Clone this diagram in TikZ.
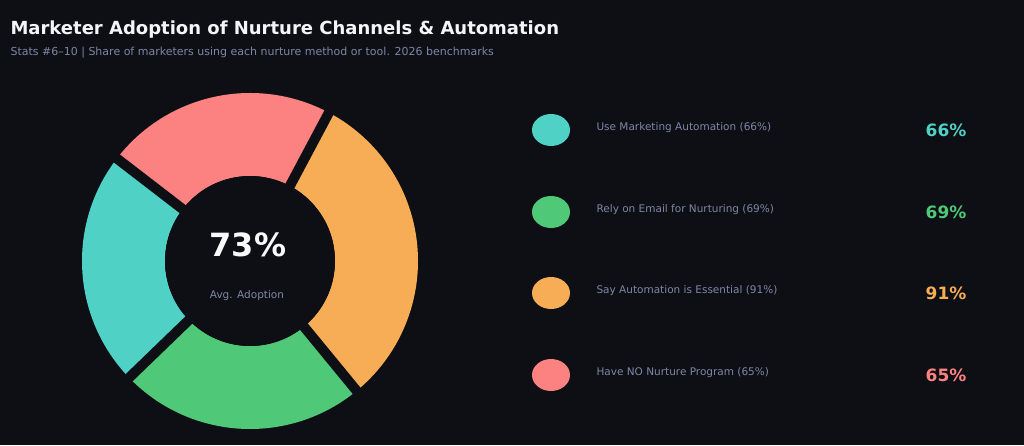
\documentclass[tikz,border=0pt]{standalone}
\usepackage{fontspec}
\setmainfont{DejaVu Sans}
\usetikzlibrary{calc,shapes.geometric}
\definecolor{bg}{HTML}{0E0F14}
\definecolor{cteal}{HTML}{4FD1C5}
\definecolor{cgreen}{HTML}{4FC978}
\definecolor{corange}{HTML}{F6AD55}
\definecolor{cred}{HTML}{FC8181}
\definecolor{sub}{HTML}{7D86A6}
\begin{document}
\begin{tikzpicture}[x=1pt,y=1pt,
  seg/.style={fill=#1,draw=none},
  gap/.style={draw=bg,line width=10pt},
  lab/.style={anchor=west,text=sub,font=\fontsize{10.5}{12}\selectfont},
  pct/.style={text=#1,font=\bfseries\fontsize{17}{20}\selectfont},
  dot/.style={fill=#1,draw=none,ellipse,minimum width=38pt,minimum height=32pt,inner sep=0pt}]
\useasboundingbox[fill=bg] (0,0) rectangle (1024,445);
\node[anchor=west,text=white!92!sub,font=\bfseries\fontsize{18}{22}\selectfont] (title) at (7,415) {Marketer Adoption of Nurture Channels \& Automation};
\node[anchor=west,text=sub,font=\fontsize{11}{13}\selectfont] (subtitle) at (7,392) {Stats \#6–10 | Share of marketers using each nurture method or tool. 2026 benchmarks};
\coordinate (c) at (250,184);
\def\R{168}\def\r{85}
\fill[cred] ($(c)+(142.4:\R)$) arc (142.4:62:\R) -- ($(c)+(62:\r)$) arc (62:142.4:\r) -- cycle;
\fill[corange] ($(c)+(62:\R)$) arc (62:-50.6:\R) -- ($(c)+(-50.6:\r)$) arc (-50.6:62:\r) -- cycle;
\fill[cgreen] ($(c)+(-50.6:\R)$) arc (-50.6:-136:\R) -- ($(c)+(-136:\r)$) arc (-136:-50.6:\r) -- cycle;
\fill[cteal] ($(c)+(-136:\R)$) arc (-136:-217.6:\R) -- ($(c)+(-217.6:\r)$) arc (-217.6:-136:\r) -- cycle;
\foreach \a in {62,-50.6,-136,142.4} \draw[gap] (c) -- ($(c)+(\a:\R+5)$);
\fill[bg] (c) circle (\r);
\node[text=white!95!sub,font=\bfseries\fontsize{32}{36}\selectfont] (avg) at (248,200) {73\%};
\node[text=sub,font=\fontsize{10.5}{12}\selectfont] (avglab) at (247,149) {Avg. Adoption};
\foreach \y/\col/\t/\p [count=\i] in {315/cteal/Use Marketing Automation (66\%)/66\%,
  233/cgreen/Rely on Email for Nurturing (69\%)/69\%,
  152/corange/Say Automation is Essential (91\%)/91\%,
  70/cred/Have NO Nurture Program (65\%)/65\%}{
  \node[dot=\col] (d\i) at (551,\y) {};
  \node[lab] (l\i) at (593,\y+2) {\t};
  \node[pct=\col] (p\i) at (946,\y) {\p};
}
\end{tikzpicture}
\end{document}
